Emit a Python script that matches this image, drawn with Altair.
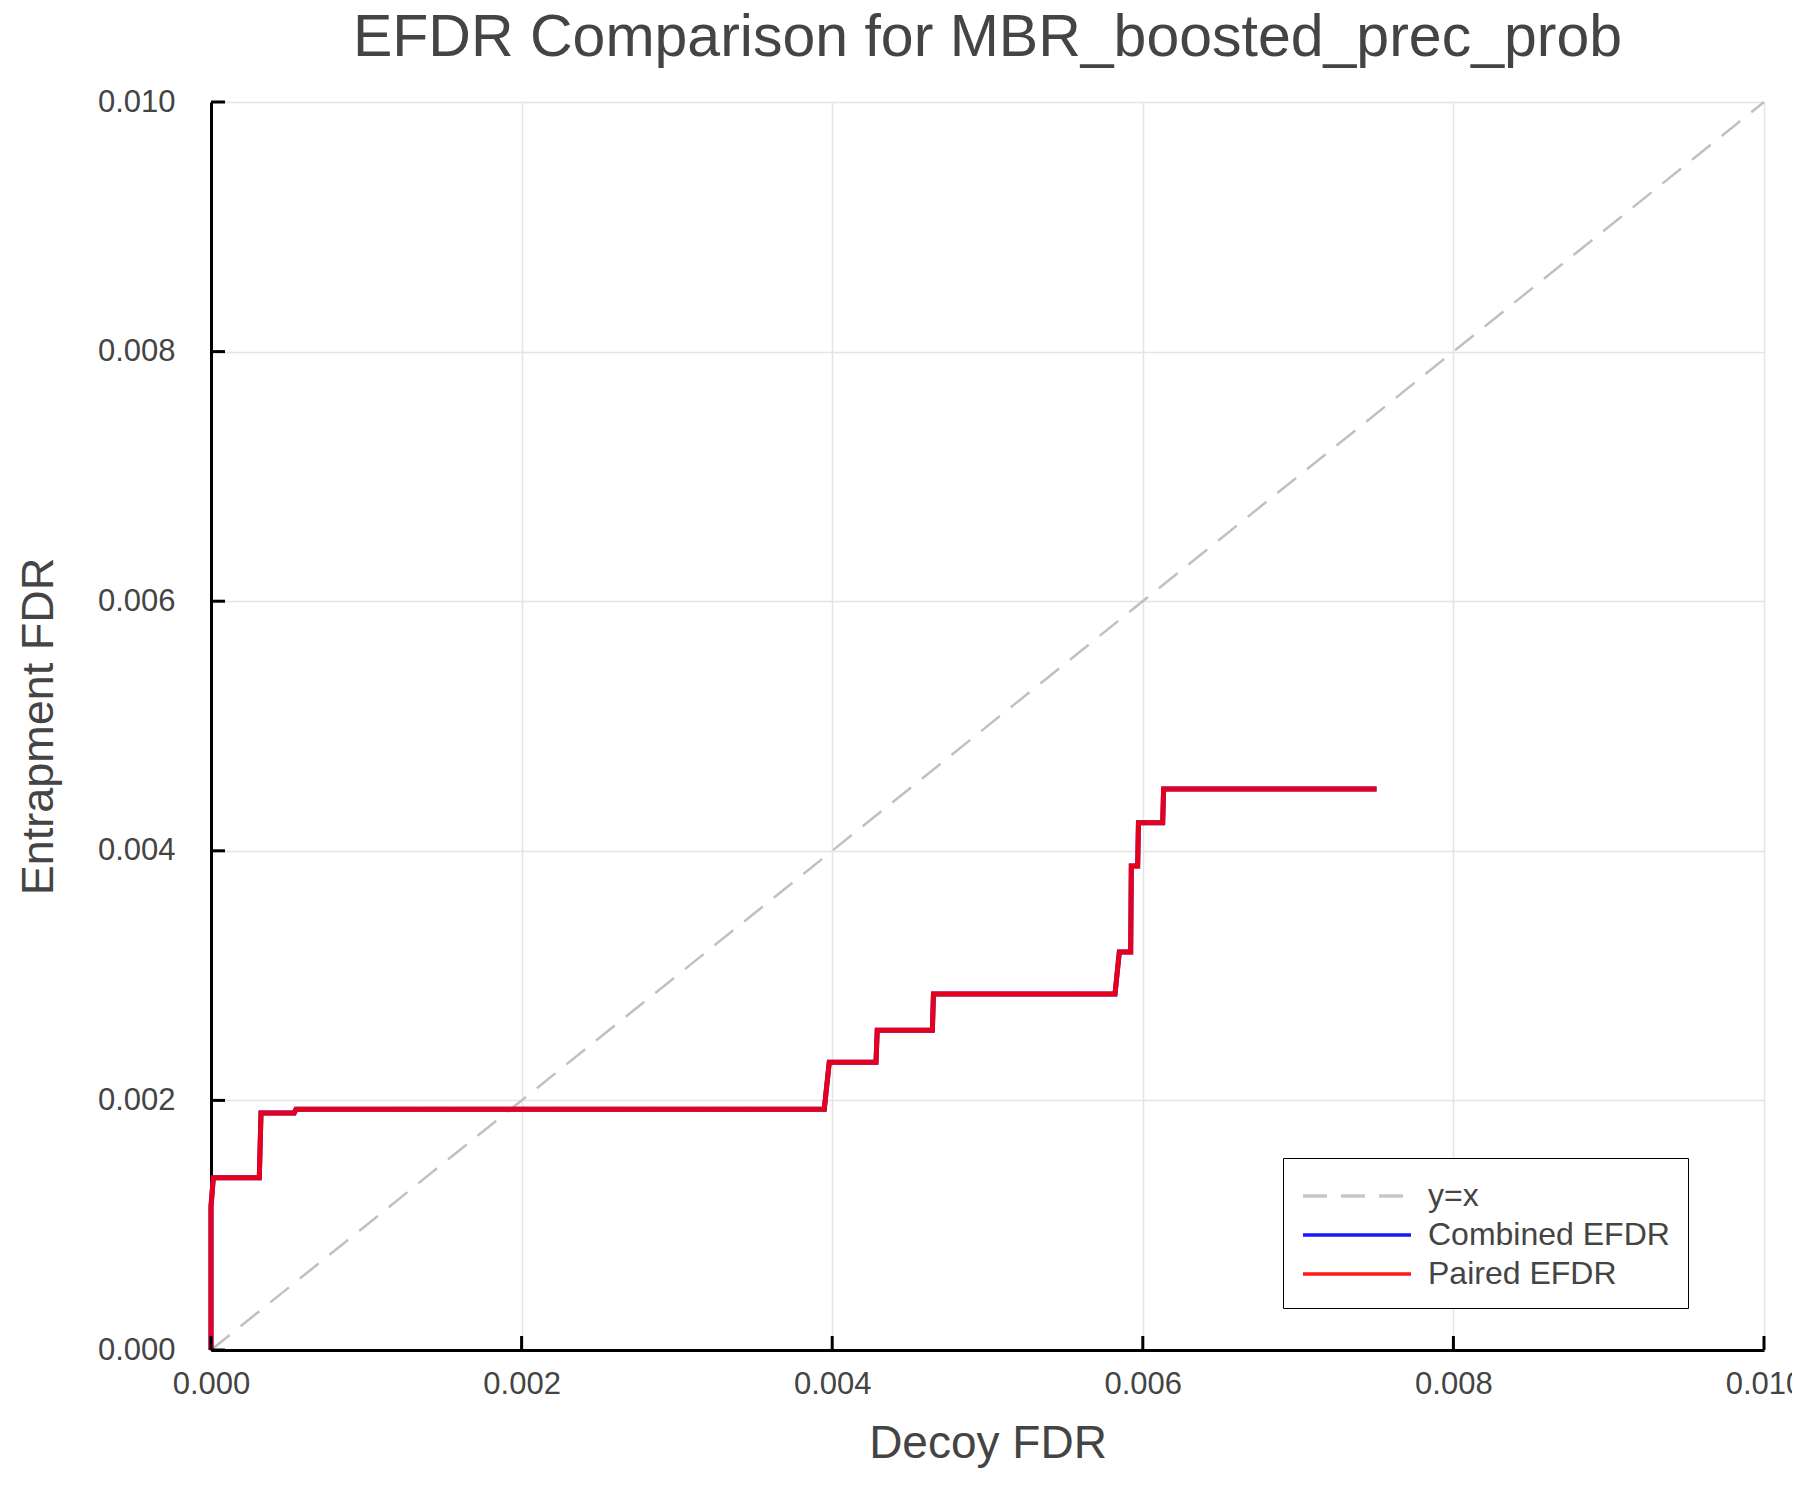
import altair as alt
import pandas as pd

# step curve vertices (both EFDR curves coincide)
decoy_fdr = [0.0, 0.0, 0.000015, 0.000311, 0.000322, 0.000536, 0.000548,
             0.003949, 0.003981, 0.004282, 0.004290, 0.004645, 0.004652,
             0.005821, 0.005849, 0.005922, 0.005926, 0.005967, 0.005972,
             0.006128, 0.006134, 0.007505]
entrap_fdr = [0.0, 0.00115, 0.00138, 0.00138, 0.00190, 0.00190, 0.00193,
              0.00193, 0.002305, 0.002305, 0.002562, 0.002562, 0.002853,
              0.002853, 0.00319, 0.00319, 0.003878, 0.003878, 0.004225,
              0.004225, 0.004495, 0.004495]

diag_x = [0.0, 0.01]
series_names = ["y=x", "Combined EFDR", "Paired EFDR"]
series_colors = ["#c0c0c0", "#0000ff", "#ff0000"]
series_dash = [[24, 14], [1, 0], [1, 0]]
tick_vals = [0.0, 0.002, 0.004, 0.006, 0.008, 0.010]

W, H = 1553, 1248
FONT = "Liberation Sans"
TXT = "#444444"

diag = pd.DataFrame({"x": diag_x, "y": diag_x, "series": "y=x", "i": [0, 1]})
combined = pd.DataFrame({"x": decoy_fdr, "y": entrap_fdr,
                         "series": "Combined EFDR", "i": range(len(decoy_fdr))})
paired = combined.assign(series="Paired EFDR")
ticks = pd.DataFrame({"t": tick_vals})

# trailing no-break spaces only widen the legend box a little
leg = alt.Legend(title=None, labelExpr="datum.label + '\u00a0\u00a0\u00a0'")

xs = alt.Scale(domain=[0, 0.01], nice=False, zero=False)
ys = alt.Scale(domain=[0, 0.01], nice=False, zero=False)
col = alt.Color("series:N", scale=alt.Scale(domain=series_names, range=series_colors),
                legend=leg, sort=series_names)
dash = alt.StrokeDash("series:N", scale=alt.Scale(domain=series_names, range=series_dash),
                      legend=leg, sort=series_names)

x_enc = alt.X("x:Q", scale=xs, title="Decoy FDR",
              axis=alt.Axis(values=tick_vals, format=".3f"))
y_enc = alt.Y("y:Q", scale=ys, title="Entrapment FDR",
              axis=alt.Axis(values=tick_vals, format=".3f"))

diag_line = alt.Chart(diag).mark_line(strokeWidth=2.5).encode(
    x=x_enc, y=y_enc, color=col, strokeDash=dash, order="i:Q")
comb_line = alt.Chart(combined).mark_line(strokeWidth=5).encode(
    x=x_enc, y=y_enc, color=col, strokeDash=dash, order="i:Q")
pair_line = alt.Chart(paired).mark_line(strokeWidth=5, opacity=0.9).encode(
    x=x_enc, y=y_enc, color=col, strokeDash=dash, order="i:Q")

# inward tick marks
xticks = alt.Chart(ticks).mark_rule(color="black", strokeWidth=3).encode(
    x=alt.X("t:Q", scale=xs), y=alt.value(H), y2=alt.value(H - 14))
yticks = alt.Chart(ticks).mark_rule(color="black", strokeWidth=3).encode(
    y=alt.Y("t:Q", scale=ys), x=alt.value(0), x2=alt.value(14))

chart = (
    alt.layer(diag_line, comb_line, pair_line, xticks, yticks)
    .resolve_scale(color="shared", strokeDash="shared")
    .properties(
        width=W, height=H,
        title="EFDR Comparison for MBR_boosted_prec_prob",
        autosize=alt.AutoSizeParams(type="none"),
        padding={"left": 203, "top": 94, "right": 28, "bottom": 142},
    )
    .configure_view(stroke=None)
    .configure_title(font=FONT, fontSize=59, fontWeight="normal", color=TXT,
                     anchor="middle", offset=18)
    .configure_axis(
        grid=True, gridColor="#e4e4e4", gridWidth=1.5,
        domainColor="black", domainWidth=3, ticks=False,
        labelFont=FONT, labelFontSize=31, labelColor=TXT, labelFlush=False,
        titleFont=FONT, titleFontWeight="normal", titleColor=TXT,
    )
    .configure_axisX(labelPadding=19, titlePadding=22, titleFontSize=46)
    .configure_axisY(labelPadding=36, titlePadding=36, titleFontSize=45)
    .configure_legend(
        orient="none", legendX=1072, legendY=1056,
        strokeColor="black", padding=18, fillColor="white",
        symbolType="M-1,0L5,0", symbolSize=1296, symbolStrokeWidth=3.5,
        labelFont=FONT, labelFontSize=32, labelColor=TXT, labelOffset=87,
        labelLimit=0, rowPadding=3, cornerRadius=0,
    )
)

chart.save("out.html", embed_options={"renderer": "svg", "actions": False})
